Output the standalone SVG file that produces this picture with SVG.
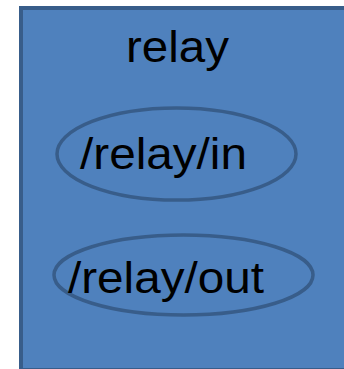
<svg xmlns="http://www.w3.org/2000/svg" width="344" height="369" viewBox="0 0 344 369">
<style>
.box{fill:#4F81BD;stroke:#385D8A;stroke-width:4}
.topic{fill:none;stroke:#385D8A;stroke-width:3.5}
.lbl{font-family:"Liberation Sans",Arial,sans-serif;font-size:44px;fill:#000}
</style>
<rect width="344" height="369" fill="#fff"/>
<g id="node-relay">
<rect class="box" x="21" y="8" width="340" height="362"/>
<text class="lbl" x="126" y="62" textLength="103" lengthAdjust="spacingAndGlyphs">relay</text>
</g>
<g id="node-relay-in">
<ellipse class="topic" cx="176.5" cy="154" rx="119.5" ry="46"/>
<text class="lbl" x="80" y="169" textLength="167" lengthAdjust="spacingAndGlyphs">/relay/in</text>
</g>
<g id="node-relay-out">
<ellipse class="topic" cx="183.5" cy="275" rx="129.5" ry="40"/>
<text class="lbl" x="68" y="293" textLength="196" lengthAdjust="spacingAndGlyphs">/relay/out</text>
</g>
<g id="connectors"/>
</svg>
